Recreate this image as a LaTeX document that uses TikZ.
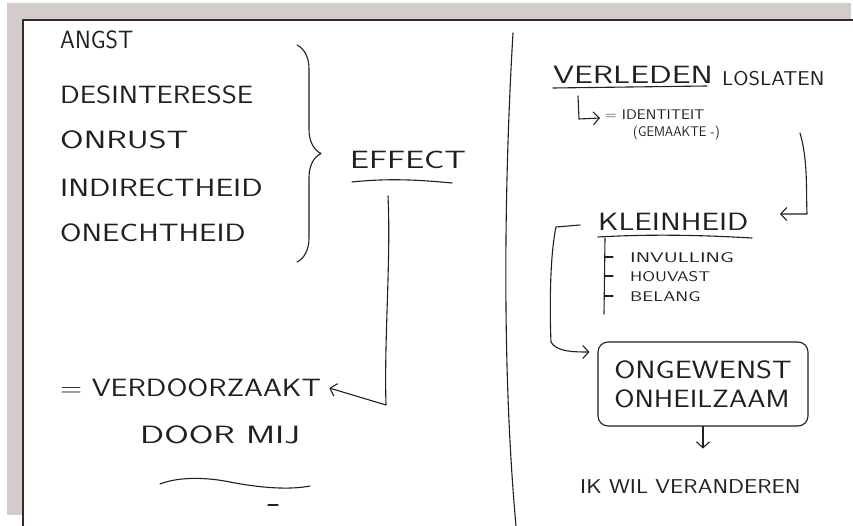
\documentclass[tikz,border=0pt]{standalone}
\usetikzlibrary{arrows.meta,decorations.pathreplacing}

\definecolor{desk}{RGB}{212,203,203}
\definecolor{rim}{RGB}{58,40,36}
\definecolor{ink}{RGB}{34,32,30}
% handwriting is wider than the font
\newcommand{\wide}[2]{\scalebox{#1}[1]{#2}}

\begin{document}
\begin{tikzpicture}[x=1pt,y=-1pt,
    ink/.style={draw=ink,line width=1.1pt,line cap=round,line join=round},
    pen/.style={ink,-{Straight Barb[length=6pt,width=13pt]}},
    big/.style={anchor=west,inner sep=0pt,text=ink,font=\sffamily\fontsize{25}{27}\selectfont},
    mid/.style={big,font=\sffamily\fontsize{20}{22}\selectfont},
    small/.style={big,font=\sffamily\fontsize{14}{16}\selectfont}]
\useasboundingbox (0,0) rectangle (853,526);
\fill[desk] (7,3) rectangle (851,515);
\fill[white] (23,20) rectangle (853,526);
\draw[rim,line width=1.3pt] (853,20) -- (23,20) -- (23,526);

% left page
\node[big] (angst)  at (60,40)  {\wide{0.95}{ANGST}};
\node[big] (desint) at (60,95)  {\wide{1.16}{DESINTERESSE}};
\node[big] (onrust) at (60,140) {\wide{1.36}{ONRUST}};
\node[big] (indir)  at (60,188) {\wide{1.26}{INDIRECTHEID}};
\node[big] (onecht) at (60,233) {\wide{1.24}{ONECHTHEID}};
\draw[ink,decorate,decoration={brace,amplitude=24pt}] (297,45) -- (297,262);
\node[big] (effect) at (350,160) {\wide{1.35}{EFFECT}};
\draw[ink] (352,182) .. controls (390,178) and (420,180) .. (452,183);
\node[big] (verdo) at (60,388) {\wide{1.21}{= VERDOORZAAKT}};
\node[big] (door)  at (140,435) {\wide{1.42}{DOOR MIJ}};
\coordinate (bend) at (386,405);
\draw[pen] (388,196) .. controls (391,260) and (384,340) .. (bend) -- ([xshift=8pt]verdo.east);
\draw[ink] (160,484) .. controls (175,478) and (200,476) .. (230,482)
           .. controls (260,488) and (290,490) .. (310,486);
\draw[ink] (268,505) -- (278,505);

% divider
\draw[ink] (513,33) .. controls (506,150) and (500,350) .. (516,526);

% right page
\node[big] (verleden) at (553,75) {\wide{1.34}{VERLEDEN}};
\node[mid] (loslaten) at (722,79) {\wide{1.1}{LOSLATEN}};
\draw[ink] (553,88) -- (707,86);
\draw[pen] (578,96) -- (579,119) -- (600,118);
\node[small] (ident)    at (605,115) {\wide{1.1}{= IDENTITEIT}};
\node[small] (gemaakte) at (633,133) {\wide{0.92}{(GEMAAKTE -)}};
\node[big] (klein) at (598,222) {\wide{1.25}{KLEINHEID}};
\coordinate (kleinin) at (780,214);
\draw[ink] (598,237) .. controls (650,234) and (700,235) .. (752,238);
\draw[pen] (800,133) .. controls (808,160) and (806,190) .. (807,214) -- (kleinin);
\draw[ink] (605,238) -- (604,314);
\foreach \y in {257,276,296} \draw[ink] (605,\y) -- (613,\y);
\node[small] (invul)  at (630,258) {\wide{1.5}{INVULLING}};
\node[small] (houv)   at (630,277) {\wide{1.27}{HOUVAST}};
\node[small] (belang) at (630,297) {\wide{1.34}{BELANG}};
\node[ink,rounded corners=10pt,minimum width=210pt,minimum height=84pt,text=ink,
      align=left,inner sep=7pt,font=\sffamily\fontsize{25}{29}\selectfont]
      (onge) at (703,384) {\wide{1.22}{ONGEWENST}\\\wide{1.17}{ONHEILZAAM}};
\draw[pen] (580,225) -- (556,227) .. controls (549,260) and (550,320) .. (551,342)
           .. controls (556,352) and (575,352) .. ([xshift=-8pt]onge.west |- 0,352);
\draw[pen] (onge.south) -- +(0,22);
\node[mid] (ikwil) at (580,487) {\wide{1.18}{IK WIL VERANDEREN}};
\end{tikzpicture}
\end{document}
